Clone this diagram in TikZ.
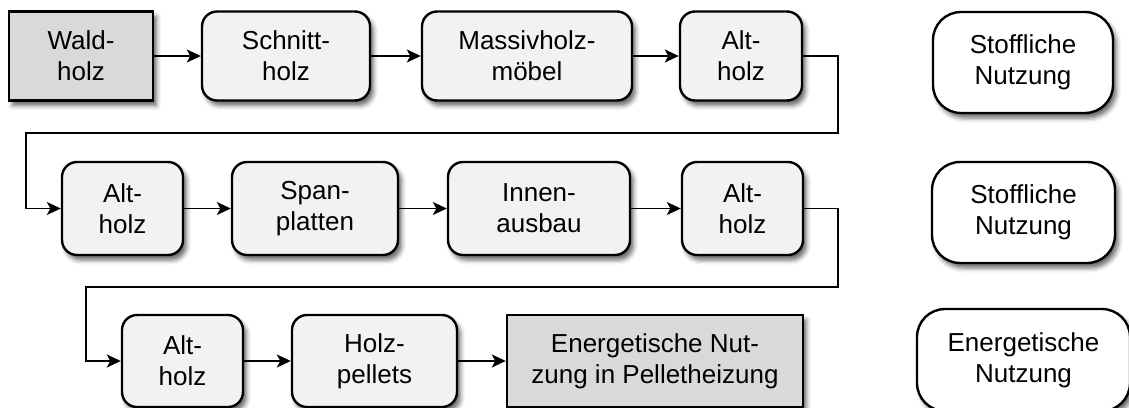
\documentclass[tikz,border=0pt]{standalone}
\usepackage{fontspec}
\setmainfont{Liberation Sans}
\usetikzlibrary{arrows.meta,shadows.blur}

\definecolor{boxgray}{HTML}{D9D9D9}
\definecolor{boxlight}{HTML}{F2F2F2}

\tikzset{
  x=1pt, y=-1pt,
  every node/.style={font=\fontsize{26}{31}\selectfont, align=center, inner sep=0pt},
  shade/.style={blur shadow={shadow xshift=3.5pt, shadow yshift=-5pt,
      shadow blur radius=4.5pt, shadow opacity=60}},
  plainbox/.style={draw, line width=2.4pt, fill=boxgray, shade},
  roundbox/.style={draw, line width=2.4pt, fill=boxlight, rounded corners=15pt, shade},
  usebox/.style={draw, line width=2.4pt, fill=white, rounded corners=28pt, shade},
  flow/.style={line width=1.8pt, -{Stealth[length=14pt, width=13pt, inset=3.5pt]}},
}

\begin{document}
\begin{tikzpicture}
\clip (0,0) rectangle (1129,407);

% first chain: forest wood to furniture
\node[plainbox, minimum width=144pt, minimum height=89pt] (wald) at (81,56) {Wald-\\holz};
\node[roundbox, minimum width=168pt, minimum height=89pt] (schnitt) at (286,56) {Schnitt-\\holz};
\node[roundbox, minimum width=210pt, minimum height=89pt] (massiv) at (527,56) {Massivholz-\\möbel};
\node[roundbox, minimum width=122pt, minimum height=89pt] (alta) at (741,56) {Alt-\\holz};

% second chain: particle boards
\node[roundbox, minimum width=121pt, minimum height=93pt] (altb) at (122.5,208.5) {Alt-\\holz};
\node[roundbox, minimum width=166pt, minimum height=93pt] (span) at (315,208.5) {Span-\\platten};
\node[roundbox, minimum width=182pt, minimum height=93pt] (innen) at (539,208.5) {Innen-\\ausbau};
\node[roundbox, minimum width=121pt, minimum height=93pt] (altc) at (742.5,208.5) {Alt-\\holz};

% third chain: pellets and heating
\node[roundbox, minimum width=121pt, minimum height=92pt] (altd) at (182.5,361) {Alt-\\holz};
\node[roundbox, minimum width=165pt, minimum height=92pt] (pellets) at (374.5,361) {Holz-\\pellets};
\node[plainbox, minimum width=296pt, minimum height=92pt] (energ) at (655,361) {Energetische Nut-\\zung in Pelletheizung};

% legend column
\node[usebox, minimum width=180pt, minimum height=101pt] (nutza) at (1023,62.5) {Stoffliche\\Nutzung};
\node[usebox, minimum width=183pt, minimum height=101pt] (nutzb) at (1023.5,212.5) {Stoffliche\\Nutzung};
\node[usebox, minimum width=213pt, minimum height=102pt] (nutzc) at (1023.5,360) {Energetische\\Nutzung};

% turning points of the row connectors
\coordinate (ra) at (838,133);
\coordinate (la) at (26,133);
\coordinate (rb) at (838,287);
\coordinate (lb) at (86,287);

\draw[flow] (wald) -- (schnitt);
\draw[flow] (schnitt) -- (massiv);
\draw[flow] (massiv) -- (alta);
\draw[flow] (alta.east) -| (ra) -- (la) |- (altb.west);
\draw[flow] (altb) -- (span);
\draw[flow] (span) -- (innen);
\draw[flow] (innen) -- (altc);
\draw[flow] (altc.east) -| (rb) -- (lb) |- (altd.west);
\draw[flow] (altd) -- (pellets);
\draw[flow] (pellets) -- (energ);
\end{tikzpicture}
\end{document}
